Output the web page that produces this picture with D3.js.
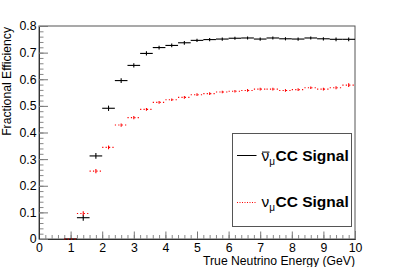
<!DOCTYPE html>
<html>
<head>
<meta charset="utf-8">
<script src="https://cdn.jsdelivr.net/npm/d3@7"></script>
<style>
  body { margin: 0; background: #fff; }
  svg { display: block; font-family: "Liberation Sans", Arial, sans-serif; }
</style>
</head>
<body>
<svg width="395" height="267"></svg>
<script>
// bin centres (GeV), 0.4 GeV wide bins
var binCenters = [1.0, 1.4, 1.8, 2.2, 2.6, 3.0, 3.4, 3.8, 4.2, 4.6, 5.0, 5.4, 5.8, 6.2, 6.6, 7.0, 7.4, 7.8, 8.2, 8.6, 9.0, 9.4, 9.8];
var binWidth = 0.4;
var antiNumu = [0, 0.080, 0.312, 0.491, 0.595, 0.652, 0.697, 0.719, 0.727, 0.737, 0.746, 0.749, 0.751, 0.754, 0.755, 0.751, 0.755, 0.752, 0.751, 0.755, 0.752, 0.750, 0.750];
var antiNumuErr = [0, 0.011, 0.011, 0.010, 0.009, 0.008, 0.008, 0.007, 0.007, 0.007, 0.006, 0.006, 0.006, 0.006, 0.006, 0.006, 0.006, 0.006, 0.006, 0.006, 0.006, 0.007, 0.007];
var numu = [0, 0.096, 0.255, 0.344, 0.428, 0.456, 0.487, 0.513, 0.523, 0.532, 0.542, 0.546, 0.552, 0.555, 0.558, 0.563, 0.563, 0.558, 0.561, 0.568, 0.563, 0.568, 0.578];
var numuErr = [0, 0.008, 0.008, 0.007, 0.006, 0.006, 0.005, 0.005, 0.005, 0.005, 0.005, 0.005, 0.005, 0.005, 0.005, 0.005, 0.005, 0.005, 0.005, 0.005, 0.005, 0.006, 0.007];
var xTicks = [0, 1, 2, 3, 4, 5, 6, 7, 8, 9, 10];
var yTicks = [0, 0.1, 0.2, 0.3, 0.4, 0.5, 0.6, 0.7, 0.8];
var yTickLabels = ["0", "0.1", "0.2", "0.3", "0.4", "0.5", "0.6", "0.7", "0.8"];

var svg = d3.select("svg");
var x = d3.scaleLinear().domain([0, 10]).range([39, 355]);
var y = d3.scaleLinear().domain([0, 0.8]).range([239, 26]);

// frame
svg.append("rect")
   .attr("x", x(0)).attr("y", y(0.8))
   .attr("width", x(10) - x(0)).attr("height", y(0) - y(0.8))
   .attr("fill", "none").attr("stroke", "#555").attr("stroke-width", 1);

// minor ticks
var xMinor = d3.range(0, 10.01, 0.2);
var yMinor = d3.range(0, 0.801, 0.02);
svg.append("g")
   .attr("transform", "translate(0," + y(0) + ")")
   .call(d3.axisBottom(x).tickValues(xMinor).tickSize(-4).tickFormat(""))
   .call(function(g) { g.select(".domain").remove(); g.selectAll("line").attr("stroke", "#888"); });
svg.append("g")
   .attr("transform", "translate(" + x(0) + ",0)")
   .call(d3.axisLeft(y).tickValues(yMinor).tickSize(-4.5).tickFormat(""))
   .call(function(g) { g.select(".domain").remove(); g.selectAll("line").attr("stroke", "#888"); });

// major ticks + labels
var xAxis = svg.append("g")
   .attr("transform", "translate(0," + y(0) + ")")
   .call(d3.axisBottom(x).tickValues(xTicks).tickSize(-7.5).tickPadding(2).tickFormat(d3.format("d")));
var yAxis = svg.append("g")
   .attr("transform", "translate(" + x(0) + ",0)")
   .call(d3.axisLeft(y).tickValues(yTicks).tickSize(-9).tickPadding(2.5)
         .tickFormat(function(d, i) { return yTickLabels[i]; }));
[xAxis, yAxis].forEach(function(g) {
    g.select(".domain").attr("stroke", "#333");
    g.selectAll("line").attr("stroke", "#777");
    g.selectAll("text").attr("font-size", "12.3px").attr("fill", "#000")
     .attr("font-family", "Liberation Sans, Arial, sans-serif");
});
xAxis.selectAll("text").attr("dy", "0.88em");

// axis titles
svg.append("text")
   .attr("x", x(10)).attr("y", 265)
   .attr("text-anchor", "end").attr("font-size", "12.2px")
   .text("True Neutrino Energy (GeV)");
svg.append("text")
   .attr("transform", "translate(10.5," + 27 + ") rotate(-90)")
   .attr("text-anchor", "end").attr("font-size", "12.2px")
   .text("Fractional Efficiency");

// histograms
function drawHist(vals, errs, color, dash) {
    var g = svg.append("g");
    binCenters.forEach(function(c, i) {
        var v = vals[i];
        g.append("line")
         .attr("x1", x(c - binWidth / 2)).attr("x2", x(c + binWidth / 2))
         .attr("y1", y(v)).attr("y2", y(v))
         .attr("stroke", color).attr("stroke-width", 1.1)
         .attr("stroke-dasharray", dash);
        if (errs[i] > 0) {
            g.append("line")
             .attr("x1", x(c)).attr("x2", x(c))
             .attr("y1", y(v - errs[i])).attr("y2", y(v + errs[i]))
             .attr("stroke", color).attr("stroke-width", 1.1);
        }
    });
}
drawHist(antiNumu, antiNumuErr, "#000", null);
drawHist(numu, numuErr, "#ff0000", "1.2,2.2");

// legend
var lg = svg.append("g");
lg.append("rect")
  .attr("x", 232.5).attr("y", 133.5).attr("width", 119).attr("height", 93)
  .attr("fill", "#fff").attr("stroke", "#555").attr("stroke-width", 1);
lg.append("line").attr("x1", 237).attr("x2", 256.5).attr("y1", 155.5).attr("y2", 155.5)
  .attr("stroke", "#000").attr("stroke-width", 1);
lg.append("line").attr("x1", 237).attr("x2", 256.5).attr("y1", 202.5).attr("y2", 202.5)
  .attr("stroke", "#ff0000").attr("stroke-width", 1).attr("stroke-dasharray", "1,1.5");

function legendLabel(yb, bar) {
    var t = lg.append("text").attr("x", 261.5).attr("y", yb).attr("font-size", "15.5px");
    t.append("tspan").text("ν");
    t.append("tspan").attr("font-size", "10px").attr("dy", 4).text("μ");
    t.append("tspan").attr("font-weight", "bold").attr("dy", -4).attr("dx", 0.5).text("CC Signal");
    if (bar) {
        lg.append("line").attr("x1", 262).attr("x2", 269.5).attr("y1", yb - 8.4).attr("y2", yb - 8.4)
          .attr("stroke", "#000").attr("stroke-width", 1);
    }
}
legendLabel(160.5, true);
legendLabel(206.5, false);
</script>
</body>
</html>
